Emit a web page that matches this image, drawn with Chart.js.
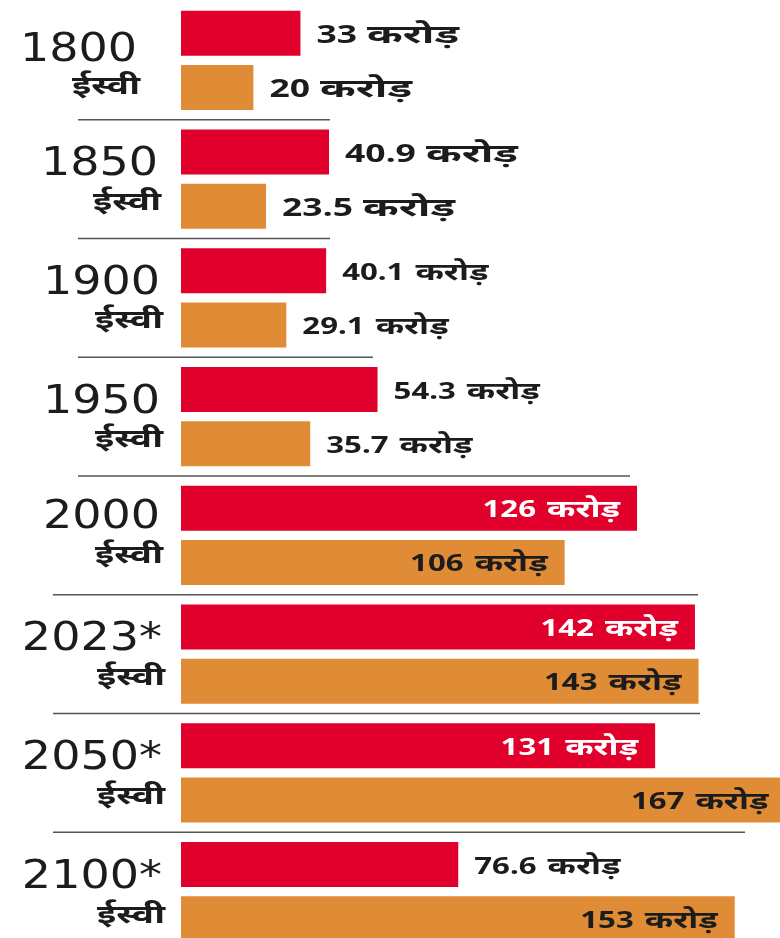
<!DOCTYPE html>
<html>
<head>
<meta charset="utf-8">
<script src="https://cdn.jsdelivr.net/npm/chart.js@4.4.1/dist/chart.umd.min.js"></script>
<style>
  html, body { margin: 0; padding: 0; background: #ffffff; overflow: hidden; }
  #wrap { width: 780px; height: 960px; position: relative; }
</style>
</head>
<body>
<div id="wrap"><canvas id="c"></canvas></div>
<script>
// ---- data (population in crore) ----
const years = ['1800', '1850', '1900', '1950', '2000', '2023*', '2050*', '2100*'];
const eraLabel = 'ईस्वी';
const unitLabel = 'करोड़';
const chinaValues = [33, 40.9, 40.1, 54.3, 126, 142, 131, 76.6];
const indiaValues = [20, 23.5, 29.1, 35.7, 106, 143, 167, 153];
const chinaText = ['33', '40.9', '40.1', '54.3', '126', '142', '131', '76.6'];
const indiaText = ['20', '23.5', '29.1', '35.7', '106', '143', '167', '153'];

const RED = '#e1002c';
const ORANGE = '#e08b36';
const DARK = '#1c1c1c';

function stretchText(ctx, txt, x, y, sx, align) {
  ctx.save();
  ctx.translate(x, y);
  ctx.scale(sx, 1);
  ctx.textAlign = align;
  ctx.fillText(txt, 0, 0);
  ctx.restore();
}

const annot = {
  id: 'annot',
  afterDatasetsDraw(chart, args, opts) {
    const ctx = chart.ctx;
    const y = chart.scales.y;
    ctx.save();
    ctx.textBaseline = 'alphabetic';
    // value labels: number + unit
    chart.data.datasets.forEach((ds, di) => {
      const meta = chart.getDatasetMeta(di);
      meta.data.forEach((bar, i) => {
        const v = ds.data[i];
        const big = i < 2;
        const size = big ? 25 : 24;
        const numSx = big ? 1.42 : 1.3;
        const unitW = big ? 92 : 73;
        const gap = big ? 10 : 11;
        const base = bar.y + size * 0.714 / 2 + 0.5;
        const font = '700 ' + size + 'px "Noto Sans", sans-serif';
        ctx.font = font;
        const numW = ctx.measureText(ds.texts[i]).width * numSx;
        const uSx = unitW / ctx.measureText(unitLabel).width;
        const total = numW + gap + unitW;
        let left;
        if (v >= 100) {
          ctx.fillStyle = di === 0 ? '#ffffff' : DARK;
          left = bar.x - 17 - total;
        } else {
          ctx.fillStyle = DARK;
          left = bar.x + 16;
        }
        stretchText(ctx, ds.texts[i], left, base, numSx, 'left');
        stretchText(ctx, unitLabel, left + numW + gap, base, uSx, 'left');
      });
    });
    // year labels
    ctx.fillStyle = DARK;
    years.forEach((yr, i) => {
      const cy = y.getPixelForValue(i);
      const right = opts.labelRight[i];
      const dy = opts.labelShift[i];
      ctx.font = '400 39px "DejaVu Sans", sans-serif';
      stretchText(ctx, yr, right, cy - 18 + 14 + dy[0], 1.18, 'right');
      ctx.font = '700 26px "Noto Sans", sans-serif';
      stretchText(ctx, eraLabel, right + 3, cy + 31 + dy[1], 1.42, 'right');
    });
    // dividers
    ctx.strokeStyle = '#545454';
    ctx.lineWidth = 1.7;
    for (let i = 0; i < years.length - 1; i++) {
      const yy = (y.getPixelForValue(i) + y.getPixelForValue(i + 1)) / 2;
      const d = opts.dividers[i];
      ctx.beginPath();
      ctx.moveTo(d[0], yy);
      ctx.lineTo(d[1], yy);
      ctx.stroke();
    }
    ctx.restore();
  }
};

new Chart(document.getElementById('c'), {
  type: 'bar',
  data: {
    labels: years,
    datasets: [
      { data: chinaValues, texts: chinaText, backgroundColor: RED, borderWidth: 0,
        categoryPercentage: 0.91, barPercentage: 0.833 },
      { data: indiaValues, texts: indiaText, backgroundColor: ORANGE, borderWidth: 0,
        categoryPercentage: 0.91, barPercentage: 0.833 }
    ]
  },
  options: {
    indexAxis: 'y',
    responsive: true,
    maintainAspectRatio: false,
    animation: false,
    layout: { padding: { left: 181, right: 0, top: 1, bottom: 9 } },
    scales: {
      x: { display: false, min: 0, max: 165.5 },
      y: { display: false }
    },
    plugins: {
      legend: { display: false },
      tooltip: { enabled: false },
      annot: {
        labelRight: [137, 158, 160, 160, 160, 162, 162, 162],
        labelShift: [[5, 3], [0, 0], [0, -1], [0, -1], [-3, -3], [0, 0], [0, 0], [0, 0]],
        dividers: [[78, 330], [78, 330], [78, 373], [78, 630], [53, 698], [53, 700], [53, 745]]
      }
    }
  },
  plugins: [annot]
});
</script>
</body>
</html>
